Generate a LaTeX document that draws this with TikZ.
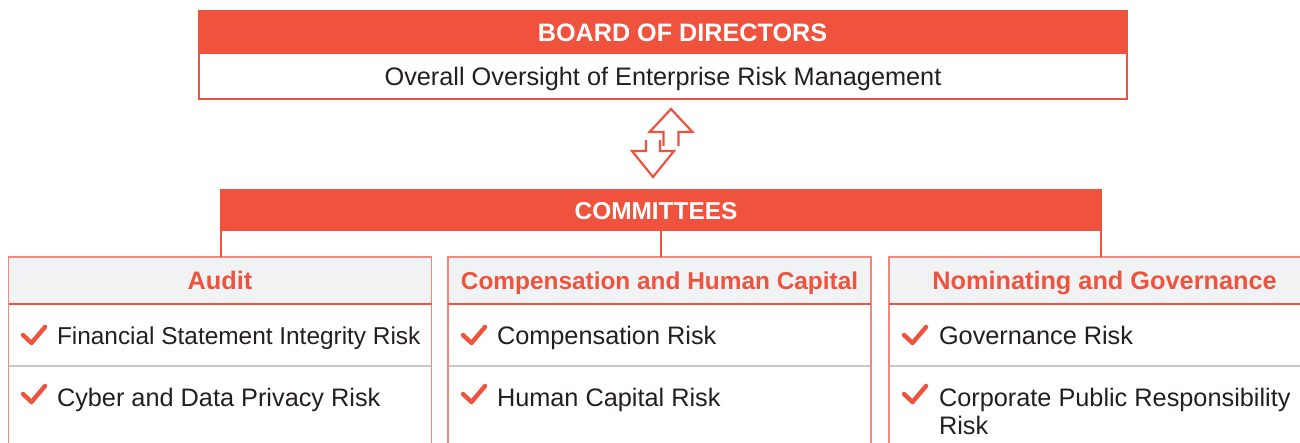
\documentclass[tikz,border=0pt]{standalone}
\usepackage{fontspec}
\setmainfont{Liberation Sans}
\definecolor{bred}{HTML}{F0533D}
\definecolor{lred}{HTML}{F3877B}
\definecolor{hgray}{HTML}{F1F2F4}
\definecolor{sgray}{HTML}{C8C8C8}
\definecolor{dtext}{HTML}{231F20}
\begin{document}
\begin{tikzpicture}[x=1pt,y=-1pt,
  redhead/.style={fill=bred, draw=none, text=white, outer sep=0pt, inner sep=0pt,
    font=\fontsize{25.2}{29}\selectfont\bfseries, text height=18pt, text depth=0pt},
  whitebox/.style={fill=white, draw=bred, line width=2pt, outer sep=0pt, inner sep=0pt,
    text=dtext, font=\fontsize{25.3}{29}\selectfont, text height=18pt, text depth=0pt},
  colhead/.style={fill=hgray, draw=lred, line width=1.5pt, outer sep=0pt, inner sep=0pt,
    minimum height=47pt, text=bred, font=\fontsize{25.3}{29}\selectfont\bfseries,
    text height=18pt, text depth=0pt},
  colbody/.style={draw=lred, line width=1.5pt},
  redline/.style={draw=bred, line width=2pt},
  sepline/.style={draw=sgray, line width=1.5pt},
  conn/.style={draw=bred, line width=2pt},
  arr/.style={draw=bred, line width=2.2pt, miter limit=10},
  item/.style={text=dtext, inner sep=0pt, outer sep=0pt, anchor=base west,
    font=\fontsize{25.3}{28}\selectfont, align=left},
  chk/.pic={\draw[bred, line width=4.4pt, line cap=round, line join=round]
    (0,0) -- (8.5,8) -- (22,-8);}
]
\useasboundingbox (0,0) rectangle (1300,442);
\clip (0,0) rectangle (1300,442);

% Board of directors
\node[whitebox, minimum width=928pt, minimum height=45.6pt] (oversight) at (663,76)
  {Overall Oversight of Enterprise Risk Management};
\node[redhead, minimum width=930pt, minimum height=44pt] (board) at (663,32)
  {\hspace*{39pt}BOARD OF DIRECTORS};

% two-way arrows
\draw[arr] (663.5,146) -- (663.5,132) -- (649.5,132) -- (671,109)
  -- (692.5,132) -- (678.5,132) -- (678.5,146);
\draw[arr] (646,140) -- (646,151) -- (632,151) -- (653,177)
  -- (674,151) -- (660,151) -- (660,140);

% Committees
\node[redhead, font=\fontsize{24.4}{29}\selectfont\bfseries, minimum width=882pt,
  minimum height=42pt] (comm) at (661,210) {COMMITTEES\hspace*{10pt}};

% Column headers
\node[colhead, minimum width=423pt] (aud) at (220,280.5) {Audit};
\node[colhead, minimum width=423pt, font=\fontsize{24.4}{29}\selectfont\bfseries]
  (comp) at (659.5,280.5) {Compensation and Human Capital};
\node[colhead, minimum width=431pt] (nom) at (1104.5,280.5) {Nominating and Governance};

% connectors
\draw[conn] ([xshift=1pt]comm.south west) -- ([xshift=1pt]comm.south west |- aud.north);
\draw[conn] (comm.south) -- (comm.south |- comp.north);
\draw[conn] ([xshift=-1pt]comm.south east) -- ([xshift=-1pt]comm.south east |- nom.north);

% column bodies
\foreach \c in {aud,comp,nom}{
  \draw[colbody] (\c.south west) -- ([yshift=-170pt]\c.south west);
  \draw[colbody] (\c.south east) -- ([yshift=-170pt]\c.south east);
  \draw[sepline] ([yshift=-62pt,xshift=0.75pt]\c.south west) -- ([yshift=-62pt,xshift=-0.75pt]\c.south east);
  \draw[redline] (\c.south west) -- (\c.south east);
}

% items
\pic at (23,335) {chk};
\node[item, font=\fontsize{24.4}{28}\selectfont] (a1) at (57,344) {Financial Statement Integrity Risk};
\pic at (23,394) {chk};
\node[item] (a2) at (57,406) {Cyber and Data Privacy Risk};

\pic at (463,335) {chk};
\node[item] (c1) at (497,344) {Compensation Risk};
\pic at (463,394) {chk};
\node[item] (c2) at (497,406) {Human Capital Risk};

\pic at (904,335) {chk};
\node[item] (n1) at (939,344) {Governance Risk};
\pic at (904,394) {chk};
\node[item] (n2) at (939,434) {Corporate Public Responsibility\\Risk};
\end{tikzpicture}
\end{document}
